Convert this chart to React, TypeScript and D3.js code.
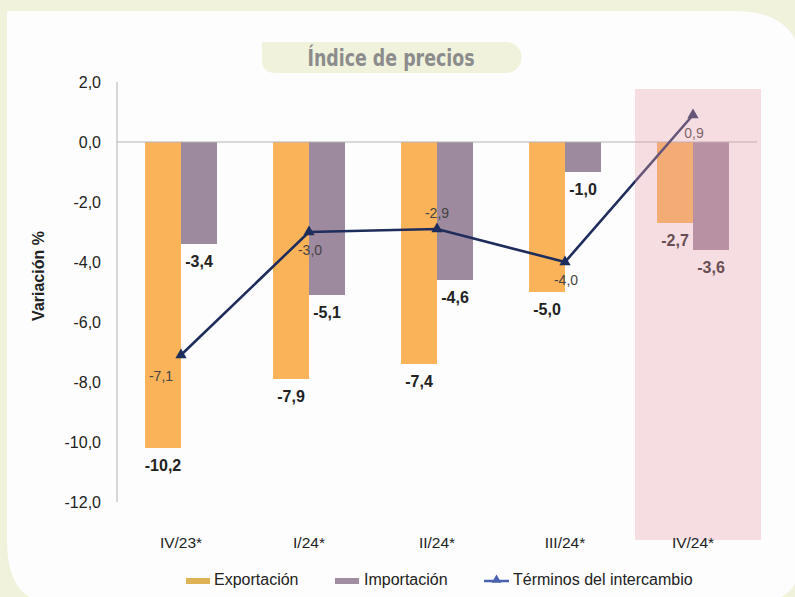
import React from 'react';
import * as d3 from 'd3';

// Chart data
const categories = ['IV/23*', 'I/24*', 'II/24*', 'III/24*', 'IV/24*'];
const exportacion = [-10.2, -7.9, -7.4, -5.0, -2.7];
const importacion = [-3.4, -5.1, -4.6, -1.0, -3.6];
const terminos = [-7.1, -3.0, -2.9, -4.0, 0.9];
const yTicks = [2, 0, -2, -4, -6, -8, -10, -12];
const seriesNames = ['Exportación', 'Importación'];
const lineName = 'Términos del intercambio';
// where each Términos label sits relative to its point
const lineLabelPlacement = ['belowLeft', 'below', 'above', 'below', 'below'];
const highlighted = 'IV/24*';

const FONT = '"Liberation Sans", Arimo, Arial, Helvetica, sans-serif';
const NARROW = '"Liberation Sans Narrow", "DejaVu Sans Condensed", "Liberation Sans", sans-serif';

const barColors = ['#fbb35a', '#9e8a9e'];
const legendColors = ['#dfb255', '#a08da0'];
const lineColor = '#1f2d5c';

const fmt = d3.formatLocale({
  decimal: ',',
  thousands: '.',
  grouping: [3],
  currency: ['', ''],
  minus: '-',
}).format('.1f');

const App = () => {
  const width = 795;
  const height = 597;
  const plot = { left: 117, right: 757, top: 82, bottom: 502 };

  const y = d3.scaleLinear().domain([-12, 2]).range([plot.bottom, plot.top]);
  const x0 = d3.scaleBand<string>().domain(categories).range([plot.left, plot.right]).padding(0);
  const x1 = d3
    .scaleBand<string>()
    .domain(seriesNames)
    .range([0, x0.bandwidth()])
    .paddingInner(0)
    .paddingOuter(0.778);

  const series = [exportacion, importacion];
  const cx = (c: string) => (x0(c) as number) + x0.bandwidth() / 2;

  const linePath = d3
    .line<number>()
    .x((_, i) => cx(categories[i]))
    .y((d) => y(d))(terminos);

  const tri = d3.symbol(d3.symbolTriangle, 55)() as string;
  const triSmall = d3.symbol(d3.symbolTriangle, 40)() as string;

  const labelPos = (p: string) => {
    if (p === 'above') return { dx: 0, dy: -11 };
    if (p === 'belowLeft') return { dx: -20, dy: 26 };
    return { dx: 1, dy: 23 };
  };

  const hx = x0(highlighted) as number;

  return (
    <svg
      width={width}
      height={height}
      style={{ position: 'absolute', left: 0, top: 0, display: 'block' }}
      fontFamily={FONT}
    >
      {/* background + panel */}
      <rect x={0} y={0} width={width} height={height} fill="#f0f2dc" />
      <path
        d="M7,11 H735 Q787,11 800,50 V560 Q800,600 760,602 H48 Q7,600 7,540 Z"
        fill="#fdfdfd"
      />

      {/* title */}
      <path
        d="M262,42 H506 A15.5,15.5 0 0 1 506,73 H276 Q262,73 262,60 Z"
        fill="#f0f2dc"
      />
      <text
        x={391}
        y={66}
        textAnchor="middle"
        fontFamily={NARROW}
        fontWeight="bold"
        fontSize={23}
        fill="#8c8c8c"
        textLength={167}
        lengthAdjust="spacingAndGlyphs"
      >
        Índice de precios
      </text>

      {/* y axis */}
      <line x1={plot.left} x2={plot.left} y1={plot.top} y2={plot.bottom} stroke="#b3b3b3" strokeWidth={1} />
      {yTicks.map((t) => (
        <text key={t} x={101} y={y(t) + 5.5} textAnchor="end" fontSize={16} fill="#222">
          {fmt(t)}
        </text>
      ))}
      <text
        transform={`translate(44,${276}) rotate(-90)`}
        textAnchor="middle"
        fontSize={16}
        fontWeight="bold"
        fill="#222"
      >
        Variación %
      </text>

      {/* bars */}
      {series.map((vals, si) =>
        vals.map((v, i) => {
          const c = categories[i];
          const bx = (x0(c) as number) + (x1(seriesNames[si]) as number);
          return (
            <rect
              key={`${si}-${i}`}
              x={bx}
              y={y(Math.max(0, v))}
              width={x1.bandwidth()}
              height={Math.abs(y(v) - y(0))}
              fill={barColors[si]}
            />
          );
        })
      )}

      {/* zero line */}
      <line x1={plot.left} x2={plot.right} y1={y(0)} y2={y(0)} stroke="#b3b3b3" strokeWidth={1.2} />

      {/* line series */}
      <path d={linePath as string} fill="none" stroke={lineColor} strokeWidth={2.6} />
      {terminos.map((v, i) => (
        <path key={i} d={tri} transform={`translate(${cx(categories[i])},${y(v)})`} fill={lineColor} />
      ))}

      {/* bar labels */}
      {series.map((vals, si) =>
        vals.map((v, i) => {
          const c = categories[i];
          const bx = (x0(c) as number) + (x1(seriesNames[si]) as number) + x1.bandwidth() / 2;
          return (
            <text
              key={`l${si}-${i}`}
              x={bx}
              y={y(v) + 23}
              textAnchor="middle"
              fontSize={16}
              fontWeight="bold"
              fill="#222"
            >
              {fmt(v)}
            </text>
          );
        })
      )}

      {/* line labels */}
      {terminos.map((v, i) => {
        const p = labelPos(lineLabelPlacement[i]);
        return (
          <text
            key={`t${i}`}
            x={cx(categories[i]) + p.dx}
            y={y(v) + p.dy}
            textAnchor="middle"
            fontSize={14}
            fill="#444"
          >
            {fmt(v)}
          </text>
        );
      })}

      {/* highlighted quarter */}
      <rect x={hx + 6} y={89} width={x0.bandwidth() - 2} height={451} fill="#e8a0ac" opacity={0.35} />

      {/* category labels */}
      {categories.map((c) => (
        <text key={c} x={cx(c)} y={548} textAnchor="middle" fontSize={15.5} fill="#222">
          {c}
        </text>
      ))}

      {/* legend */}
      <rect x={186} y={578} width={24} height={6} fill={legendColors[0]} />
      <text x={214} y={585} fontSize={16} fill="#222">{seriesNames[0]}</text>
      <rect x={335} y={578} width={24} height={6} fill={legendColors[1]} />
      <text x={364} y={585} fontSize={16} fill="#222">{seriesNames[1]}</text>
      <line x1={484} x2={509} y1={581} y2={581} stroke="#4a63b0" strokeWidth={2.5} />
      <path d={triSmall} transform="translate(496.5,580)" fill="#4a63b0" />
      <text x={513} y={585} fontSize={16} fill="#222">{lineName}</text>
    </svg>
  );
};

export default App;
